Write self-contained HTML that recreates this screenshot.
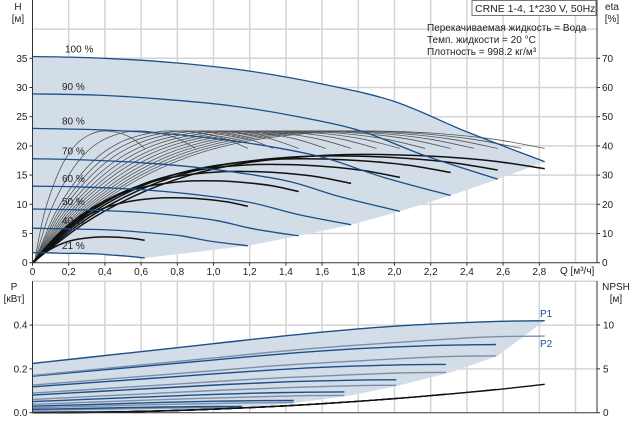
<!DOCTYPE html>
<html><head><meta charset="utf-8">
<style>
html,body{margin:0;padding:0;background:#fff;}
svg{display:block;font-family:"Liberation Sans","DejaVu Sans",sans-serif;}
</style></head>
<body>
<svg id="c" width="637" height="421" viewBox="0 0 637 421" xmlns="http://www.w3.org/2000/svg">
  <g id="grid"></g>
  <g id="shade"></g>
  <g id="series"></g>
  <g id="axes"></g>
  <g>
    <rect x="472" y="0.5" width="124" height="15" fill="#fff" stroke="#555" stroke-width="0.8"/>
    <text x="475" y="12" font-size="10.5" fill="#222">CRNE 1-4, 1*230 V, 50Hz</text>
  </g>
  <g font-size="10" fill="#222">
    <text x="427" y="31">Перекачиваемая жидкость = Вода</text>
    <text x="427" y="43">Темп. жидкости = 20 °C</text>
    <text x="427" y="55">Плотность = 998.2 кг/м³</text>
  </g>
  <g font-size="10" fill="#222">
    <text x="18" y="10" text-anchor="middle">H</text>
    <text x="18" y="22" text-anchor="middle">[м]</text>
    <text x="612" y="10" text-anchor="middle">eta</text>
    <text x="612" y="22" text-anchor="middle">[%]</text>
    <text x="560" y="274">Q [м³/ч]</text>
    <text x="14" y="290" text-anchor="middle">P</text>
    <text x="14" y="302" text-anchor="middle">[кВт]</text>
    <text x="616" y="290" text-anchor="middle">NPSH</text>
    <text x="616" y="302" text-anchor="middle">[м]</text>
    <text x="540" y="317" fill="#1a4f8a">P1</text>
    <text x="540" y="347" fill="#1a4f8a">P2</text>
  </g>
</svg>
<script>
// ---- data ----
const speedLabels = ["21 %","40 %","50 %","60 %","70 %","80 %","90 %","100 %"];
const speedRatio = [0.22,0.409,0.51,0.609,0.71,0.807,0.905,1.0];
const qEnd = [0.62,1.19,1.47,1.76,2.03,2.31,2.57,2.83];
const h21  = {q:[0,0.09,0.18,0.26,0.35,0.44,0.53,0.62], h:[1.7,1.7,1.6,1.6,1.5,1.3,1.1,0.8]};
const h40  = {q:[0,0.16,0.33,0.49,0.65,0.82,0.98,1.19], h:[5.9,5.8,5.7,5.5,5.1,4.6,3.7,2.9]};
const h50  = {q:[0,0.2,0.41,0.61,0.82,1.02,1.22,1.47], h:[9.2,9.1,8.9,8.6,8.0,7.2,5.8,4.6]};
const h60  = {q:[0,0.24,0.49,0.73,0.97,1.22,1.46,1.76], h:[13.1,13.0,12.7,12.2,11.4,10.2,8.3,6.5]};
const h70  = {q:[0,0.28,0.57,0.85,1.14,1.42,1.70,2.03], h:[17.8,17.6,17.2,16.5,15.4,13.9,11.3,8.8]};
const h80  = {q:[0,0.32,0.65,0.97,1.29,1.61,1.94,2.31], h:[23.0,22.8,22.3,21.4,20.0,18.0,14.6,11.5]};
const h90  = {q:[0,0.36,0.72,1.09,1.45,1.81,2.17,2.57], h:[28.9,28.7,28.0,26.9,25.1,22.6,18.3,14.3]};
const h100 = {q:[0,0.4,0.8,1.2,1.6,2.0,2.4,2.83], h:[35.3,35.0,34.2,32.8,30.6,27.6,22.4,17.3]};
const headCurves = [h21,h40,h50,h60,h70,h80,h90,h100];
const labelH = [1.7,5.9,9.2,13.1,17.8,23.0,28.9,35.3];
// efficiency
const etaShapeU = [0,0.1,0.2,0.3,0.4,0.5,0.6,0.7,0.8,0.9,1.0];
const etaShapeF = [0.08,0.36,0.62,0.8,0.91,0.97,1.0,1.0,0.98,0.94,0.87];
const thinQEnd = [0.62,0.9,1.19,1.33,1.47,1.62,1.76,1.9,2.03,2.17,2.31,2.44,2.57,2.7,2.83];
const thinPeak = 45;
const thickPeak = [8.8,22.2,28,31.2,33.6,35.5,36.5,37];
// power (100% speed), other speeds scaled by affinity
const pQ = [0,0.5,1.0,1.5,2.0,2.5,2.83];
const p1 = [0.225,0.27,0.315,0.36,0.395,0.415,0.42];
const p2 = [0.17,0.21,0.25,0.29,0.32,0.345,0.35];
// NPSH (100%)
const nQ = [0,0.5,1.0,1.5,2.0,2.5,2.83];
const npsh = [0,0.1,0.4,0.9,1.6,2.5,3.24];
const qTicks = ["0","0,2","0,4","0,6","0,8","1,0","1,2","1,4","1,6","1,8","2,0","2,2","2,4","2,6","2,8"];
const hTicks = [0,5,10,15,20,25,30,35];
const etaTicks = [0,10,20,30,40,50,60,70];
const pTicks = ["0.0","0.2","0.4"];
const nTicks = [0,5,10];

// ---- scales ----
const X0=32.5, XS=181, XR=597;
const xQ=q=>X0+q*XS;
const yH=h=>262.7-h*5.84;
const yEta=e=>yH(e/2);
const yP=p=>412.7-p*219;
const yN=n=>412.7-n*8.77;
const NS="http://www.w3.org/2000/svg";
function mk(tag,attrs,parent){const e=document.createElementNS(NS,tag);for(const k in attrs)e.setAttribute(k,attrs[k]);parent.appendChild(e);return e;}
function smooth(pts){
  let d="M"+pts[0][0].toFixed(1)+","+pts[0][1].toFixed(1);
  for(let i=0;i<pts.length-1;i++){
    const p0=pts[Math.max(0,i-1)],p1=pts[i],p2=pts[i+1],p3=pts[Math.min(pts.length-1,i+2)];
    const c1=[p1[0]+(p2[0]-p0[0])/6,p1[1]+(p2[1]-p0[1])/6];
    const c2=[p2[0]-(p3[0]-p1[0])/6,p2[1]-(p3[1]-p1[1])/6];
    d+="C"+c1[0].toFixed(1)+","+c1[1].toFixed(1)+" "+c2[0].toFixed(1)+","+c2[1].toFixed(1)+" "+p2[0].toFixed(1)+","+p2[1].toFixed(1);
  }
  return d;
}
const G=document.getElementById('grid'),S=document.getElementById('shade'),R=document.getElementById('series'),A=document.getElementById('axes');

// grid
for(let i=1;i<=16;i++){const x=xQ(i*0.2); if(x>XR)break;
  let l=mk('line',{x1:x,y1:0,x2:x,y2:yH(0),stroke:"#d4d4d4","stroke-width":1.5},G);
  
  l=mk('line',{x1:x,y1:281,x2:x,y2:yP(0),stroke:"#d4d4d4","stroke-width":1.5},G);
  
}
for(let h=5;h<=40;h+=5){const l=mk('line',{x1:X0,y1:yH(h),x2:XR,y2:yH(h),stroke:"#d4d4d4","stroke-width":1.5},G);
  }
[0.2,0.4,0.6].forEach(p=>{const l=mk('line',{x1:X0,y1:yP(p),x2:XR,y2:yP(p),stroke:"#d4d4d4","stroke-width":1.5},G);
  });

// shaded area top
{
  let pts=[[xQ(0),yH(h21.h[0])]];
  h100.q.forEach((q,i)=>{});
  let top=h100.q.map((q,i)=>[xQ(q),yH(h100.h[i])]);
  let d="M"+xQ(0)+","+yH(h21.h[0])+" L"+smooth(top).slice(1);
  for(let k=headCurves.length-2;k>=0;k--){const c=headCurves[k];const n=c.q.length-1;d+=" L"+xQ(c.q[n]).toFixed(1)+","+yH(c.h[n]).toFixed(1);}
  const rev=h21.q.map((q,i)=>[xQ(q),yH(h21.h[i])]).reverse();
  d+=" L"+smooth(rev).slice(1)+"Z";
  const p=mk('path',{d:d,fill:"#d3dde8"},S);
  
}
// shaded area bottom
{
  const top=pQ.map((q,i)=>[xQ(q),yP(p1[i])]);
  let d="M"+xQ(0)+","+yP(0)+" L"+smooth(top).slice(1);
  for(let k=speedRatio.length-2;k>=0;k--){const s=speedRatio[k];d+=" L"+xQ(qEnd[k]).toFixed(1)+","+yP(p2[p2.length-1]*s*s*s).toFixed(1);}
  d+=" Z";
  const p=mk('path',{d:d,fill:"#d3dde8"},S);
  
}

// thin efficiency curves
thinQEnd.forEach(qe=>{
  const pts=[[xQ(0.01),yEta(0)]].concat(etaShapeU.slice(1).map((u,i)=>[xQ(u*qe),yEta(etaShapeF[i+1]*thinPeak)]));
  const p=mk('path',{d:smooth(pts),fill:"none",stroke:"#555","stroke-width":0.8},R);
  
});
// thick efficiency curves
thickPeak.forEach((pk,k)=>{
  const qe=qEnd[k];
  const pts=etaShapeU.map((u,i)=>[xQ(u*qe),yEta(i===0?0:etaShapeF[i]*pk)]);
  const p=mk('path',{d:smooth(pts),fill:"none",stroke:"#111","stroke-width":1.5},R);
  
});
// head curves
headCurves.forEach((c,k)=>{
  const pts=c.q.map((q,i)=>[xQ(q),yH(c.h[i])]);
  const p=mk('path',{d:smooth(pts),fill:"none",stroke:"#1a4f8a","stroke-width":1.3},R);
  
  const t=mk('text',{x:k===7?65:62,y:yH(labelH[k])-4,"font-size":10,fill:"#222"},R);
  t.textContent=speedLabels[k];
  
});
// power curves
speedRatio.forEach((s,k)=>{
  const s3=s*s*s;
  const a=pQ.map((q,i)=>[xQ(q*s),yP(p2[i]*s3)]);
  let p=mk('path',{d:smooth(a),fill:"none",stroke:"#7d8ea6","stroke-width":1.4},R);
  
  const b=pQ.map((q,i)=>[xQ(q*s),yP(p1[i]*s3)]);
  p=mk('path',{d:smooth(b),fill:"none",stroke:"#1a4f8a","stroke-width":1.4},R);
  
});
// NPSH curves
speedRatio.forEach((s,k)=>{
  const pts=nQ.map((q,i)=>[xQ(q*s),yN(npsh[i]*s*s)]);
  const p=mk('path',{d:smooth(pts),fill:"none",stroke:"#111","stroke-width":1.3},R);
  
});

// axes
[[X0,0,X0,yH(0)],[XR,0,XR,yH(0)],[X0,yH(0),XR,yH(0)],[X0,281,X0,yP(0)],[XR,281,XR,yP(0)],[X0,yP(0),XR,yP(0)]].forEach(c=>{
  const l=mk('line',{x1:c[0],y1:c[1],x2:c[2],y2:c[3],stroke:"#333","stroke-width":1},A);
  
});
qTicks.forEach((t,i)=>{const x=xQ(i*0.2);
  mk('line',{x1:x,y1:yH(0),x2:x,y2:yH(0)+3,stroke:"#333"},A);
  const e=mk('text',{x:x,y:275,"font-size":10,"text-anchor":"middle",fill:"#222"},A);e.textContent=t;
  });
hTicks.forEach(h=>{const y=yH(h);mk('line',{x1:X0-3,y1:y,x2:X0,y2:y,stroke:"#333"},A);
  const e=mk('text',{x:X0-5,y:y+3.5,"font-size":10,"text-anchor":"end",fill:"#222"},A);e.textContent=h;
  });
etaTicks.forEach(v=>{const y=yEta(v);mk('line',{x1:XR,y1:y,x2:XR+3,y2:y,stroke:"#333"},A);
  const e=mk('text',{x:XR+5,y:y+3.5,"font-size":10,fill:"#222"},A);e.textContent=v;
  });
pTicks.forEach((t,i)=>{const y=yP(i*0.2);mk('line',{x1:X0-3,y1:y,x2:X0,y2:y,stroke:"#333"},A);
  const e=mk('text',{x:X0-5,y:y+3.5,"font-size":10,"text-anchor":"end",fill:"#222"},A);e.textContent=t;
  });
nTicks.forEach(v=>{const y=yN(v);mk('line',{x1:XR,y1:y,x2:XR+3,y2:y,stroke:"#333"},A);
  const e=mk('text',{x:XR+6,y:y+3.5,"font-size":10,fill:"#222"},A);e.textContent=v;
  });
</script>
</body></html>
